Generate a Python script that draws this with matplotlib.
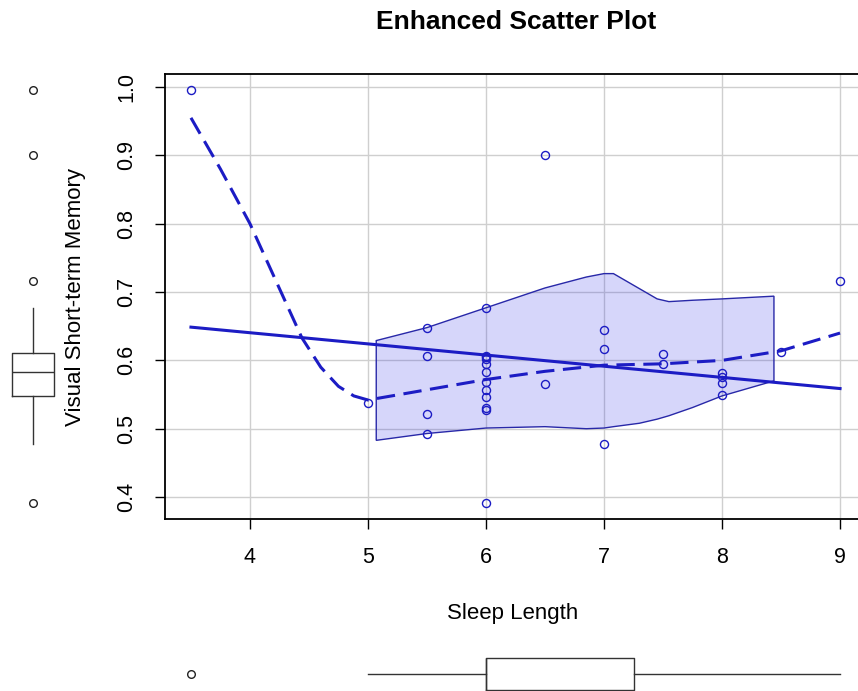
import numpy as np
import matplotlib
matplotlib.use("Agg")
import matplotlib.pyplot as plt

plt.rcParams['font.family'] = ['Liberation Sans', 'DejaVu Sans']

# data
sleep = [3.5, 5.0,
         5.5, 5.5, 5.5, 5.5,
         6.0, 6.0, 6.0, 6.0, 6.0, 6.0, 6.0, 6.0, 6.0, 6.0, 6.0, 6.0,
         6.5, 6.5,
         7.0, 7.0, 7.0,
         7.5, 7.5,
         8.0, 8.0, 8.0, 8.0,
         8.5, 9.0]
memory = [0.995, 0.538,
          0.647, 0.606, 0.522, 0.492,
          0.676, 0.607, 0.605, 0.602, 0.595, 0.583, 0.569, 0.556, 0.547, 0.531, 0.527, 0.392,
          0.900, 0.565,
          0.644, 0.616, 0.477,
          0.610, 0.594,
          0.581, 0.575, 0.567, 0.549,
          0.613, 0.716]

# smoother (dashed)
smooth_x = [3.5, 3.75, 4.0, 4.25, 4.44, 4.6, 4.75, 4.88, 5.0, 5.1, 5.5, 6.0, 6.5, 7.0, 7.5, 8.0, 8.5, 9.0]
smooth_y = [0.955, 0.880, 0.800, 0.705, 0.633, 0.590, 0.562, 0.548, 0.542, 0.545, 0.557, 0.572, 0.584, 0.593, 0.595, 0.600, 0.614, 0.640]

# spread band
band_x = [5.07, 5.5, 6.0, 6.5, 6.85, 7.0, 7.08, 7.3, 7.45, 7.55, 7.75, 8.0, 8.44]
band_hi = [0.629, 0.648, 0.677, 0.706, 0.722, 0.727, 0.727, 0.705, 0.690, 0.686, 0.688, 0.690, 0.694]
band_lo = [0.483, 0.493, 0.501, 0.503, 0.500, 0.501, 0.503, 0.508, 0.514, 0.519, 0.531, 0.548, 0.570]

blue = '#1c1cc4'


def fivenum_stats(v):
    # R style boxplot stats (Tukey hinges)
    v = np.sort(np.asarray(v, float))
    n = len(v)
    n4 = np.floor((n + 3) / 2) / 2
    d = np.array([1, n4, (n + 1) / 2, n + 1 - n4, n]) - 1
    q = 0.5 * (v[np.floor(d).astype(int)] + v[np.ceil(d).astype(int)])
    iqr = q[3] - q[1]
    lo_f, hi_f = q[1] - 1.5 * iqr, q[3] + 1.5 * iqr
    inside = v[(v >= lo_f) & (v <= hi_f)]
    return dict(med=q[2], q1=q[1], q3=q[3], whislo=inside.min(), whishi=inside.max(),
                fliers=v[(v < lo_f) | (v > hi_f)])


W, H = 858, 691
fig = plt.figure(figsize=(W / 100, H / 100), dpi=100)

x0, x1 = 165, 866
y0, y1 = 74, 519
ax = fig.add_axes([x0 / W, 1 - y1 / H, (x1 - x0) / W, (y1 - y0) / H])

xs = np.array(sleep)
ys = np.array(memory)
pad_x = 0.04 * (xs.max() - xs.min())
pad_y = 0.04 * (ys.max() - ys.min())
ax.set_xlim(xs.min() - pad_x, xs.max() + pad_x)
ax.set_ylim(ys.min() - pad_y, ys.max() + pad_y)

ax.set_xticks([4, 5, 6, 7, 8, 9])
ax.set_yticks([0.4, 0.5, 0.6, 0.7, 0.8, 0.9, 1.0])
ax.set_yticklabels(['0.4', '0.5', '0.6', '0.7', '0.8', '0.9', '1.0'], rotation=90, va='center')
ax.grid(True, color='#cfcfcf', lw=1)
ax.set_axisbelow(True)
ax.tick_params(direction='out', length=7, width=1, labelsize=15.5, pad=13)
for s in ax.spines.values():
    s.set_linewidth(1.3)

ax.fill(np.concatenate([band_x, band_x[::-1]]), np.concatenate([band_hi, band_lo[::-1]]),
        facecolor=(0.2, 0.2, 0.9, 0.2), edgecolor='#2828a8', lw=1, zorder=2)

slope, icpt = np.polyfit(xs, ys, 1)
lx = np.array([xs.min(), xs.max()])
ax.plot(lx, icpt + slope * lx, color=blue, lw=2.2, zorder=3)
ax.plot(smooth_x, smooth_y, color=blue, lw=2.2, ls=(0, (6, 2.8)), zorder=3)

ax.plot(xs, ys, 'o', ms=5.8, mfc='none', mec=blue, mew=1, zorder=4)

fig.text(516 / W, 1 - 22 / H, 'Enhanced Scatter Plot', fontsize=19, fontweight='bold',
         ha='center', va='center')
fig.text(513 / W, 1 - 614 / H, 'Sleep Length', fontsize=16, ha='center', va='center')
fig.text(75 / W, 1 - 297 / H, 'Visual Short-term Memory', fontsize=16, rotation=90,
         ha='center', va='center')

box_kw = dict(boxprops=dict(color='#333333', lw=1), medianprops=dict(color='#333333', lw=1),
              whiskerprops=dict(color='#333333', lw=1), capprops=dict(lw=0),
              flierprops=dict(marker='o', mfc='none', mec='#222222', ms=5.5, mew=1))

# left boxplot for y
axl = fig.add_axes([0, 1 - y1 / H, 66 / W, (y1 - y0) / H], sharey=ax)
axl.bxp([fivenum_stats(memory)], positions=[0.5], widths=0.65, vert=True, showcaps=False, **box_kw)
axl.set_xlim(0, 1)
axl.axis('off')

# bottom boxplot for x
axb = fig.add_axes([x0 / W, 1 - 708 / H, (x1 - x0) / W, 68 / H])
axb.bxp([fivenum_stats(sleep)], positions=[0.5], widths=0.47, vert=False, showcaps=False, **box_kw)
axb.set_xlim(ax.get_xlim())
axb.set_ylim(0, 1)
axb.axis('off')

fig.savefig('out.png', dpi=100)
